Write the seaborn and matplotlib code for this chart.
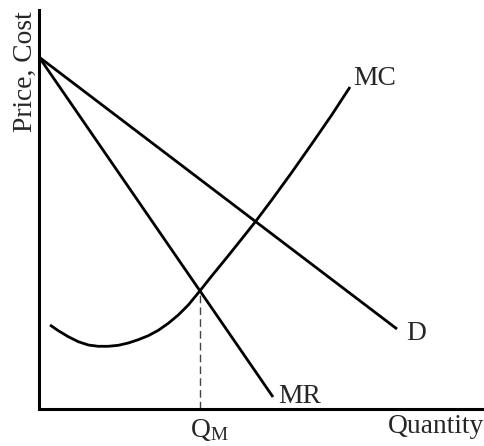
import numpy as np
import matplotlib
matplotlib.use("Agg")
import matplotlib.pyplot as plt
import pandas as pd
import seaborn as sns

# curves (quantity, price), origin at the axes corner
d_q = [0, 358]
d_p = [352, 80]

mr_q = [0, 234]
mr_p = [352, 12]

mc_q = [11, 19.3, 29.3, 39.3, 49.3, 59.3, 69.3, 79.3, 89.3, 99.3, 109.3,
        119.3, 129.3, 139.3, 149.3, 160, 172.7, 189.3, 206, 216.7, 232.7,
        252.7, 272.7, 292.7, 311]
mc_p = [84, 78.3, 72.3, 67.3, 64, 62.7, 62.7, 63.7, 66, 69.3, 73.3,
        78.7, 85.7, 94, 104, 117, 133, 153.3, 174.2, 187.7, 209,
        236.5, 265, 294, 322]

q_m = 160.5
q_m_price = 118

sns.set_style("white")
plt.rcParams['font.family'] = ['Liberation Serif', 'DejaVu Serif']
plt.rcParams['mathtext.fontset'] = 'custom'
plt.rcParams['mathtext.rm'] = 'Liberation Serif'

fig = plt.figure(figsize=(4.84, 4.46), dpi=100)
ax = fig.add_axes([39 / 484, 37 / 446, 445 / 484, 399 / 446])

lw = 2.0
for name, q, p in [("D", d_q, d_p), ("MR", mr_q, mr_p), ("MC", mc_q, mc_p)]:
    df = pd.DataFrame({"q": q, "p": p})
    sns.lineplot(data=df, x="q", y="p", sort=False, color="black",
                 linewidth=lw, ax=ax, solid_capstyle="butt",
                 solid_joinstyle="round")

# dashed drop line at the monopoly quantity
ax.vlines(q_m, 0, q_m_price, colors="#444444", linewidth=1.0,
          linestyles=(0, (5.5, 3)))

ax.set_xlim(0, 445)
ax.set_ylim(0, 399)
ax.set_xticks([])
ax.set_yticks([])
ax.set_xlabel("")
ax.set_ylabel("")
for s in ["top", "right"]:
    ax.spines[s].set_visible(False)
for s in ["left", "bottom"]:
    ax.spines[s].set_linewidth(2.2)
    ax.spines[s].set_color("black")

fs = 19.8
ax.text(314, 324, "MC", fontsize=fs, ha="left", va="baseline")
ax.text(367, 69, "D", fontsize=fs, ha="left", va="baseline")
ax.text(239, 6, "MR", fontsize=fs, ha="left", va="baseline")
ax.text(445, -24, "Quantity", fontsize=fs, ha="right", va="baseline",
        clip_on=False)
ax.text(151, -28, r"$\mathregular{Q_M}$", fontsize=fs, ha="left",
        va="baseline", clip_on=False)
ax.text(-6.7, 277, "Price, Cost", fontsize=fs, rotation=90,
        rotation_mode="anchor", ha="left", va="baseline", clip_on=False)

fig.savefig("out.png", dpi=100)
